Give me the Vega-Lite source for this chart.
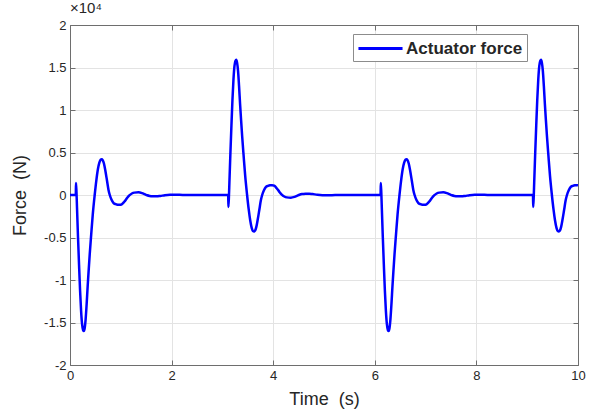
{
  "$schema": "https://vega.github.io/schema/vega-lite/v6.json",
  "width": 508,
  "height": 340,
  "autosize": {"type": "none"},
  "padding": {"left": 70, "top": 25, "right": 12, "bottom": 48},
  "background": "white",
  "title": {"text": "×10⁴", "anchor": "start", "frame": "group", "fontSize": 15, "font": "Liberation Sans", "fontWeight": "normal", "color": "#262626", "offset": 3},
  "data": {"values": [
    {"t":0,"f":0},{"t":0.114,"f":0},{"t":0.118,"f":1400},{"t":0.128,"f":300},{"t":0.138,"f":-1500},{"t":0.158,"f":-5000},{"t":0.178,"f":-8200},{"t":0.198,"f":-11200},{"t":0.218,"f":-13600},{"t":0.238,"f":-15200},{"t":0.258,"f":-15900},{"t":0.273,"f":-16000},{"t":0.288,"f":-15700},{"t":0.308,"f":-14600},{"t":0.328,"f":-12800},{"t":0.348,"f":-10700},{"t":0.368,"f":-8800},{"t":0.388,"f":-7000},{"t":0.418,"f":-4600},{"t":0.448,"f":-2300},{"t":0.486,"f":0},{"t":0.518,"f":1700},{"t":0.548,"f":3000},{"t":0.578,"f":3800},{"t":0.603,"f":4150},{"t":0.623,"f":4200},{"t":0.643,"f":4100},{"t":0.668,"f":3700},{"t":0.698,"f":2800},{"t":0.728,"f":1700},{"t":0.758,"f":600},{"t":0.783,"f":0},{"t":0.818,"f":-550},{"t":0.858,"f":-950},{"t":0.898,"f":-1080},{"t":0.938,"f":-1140},{"t":0.978,"f":-1150},{"t":1.018,"f":-1090},{"t":1.068,"f":-800},{"t":1.118,"f":-400},{"t":1.168,"f":-50},{"t":1.218,"f":180},{"t":1.268,"f":280},{"t":1.348,"f":310},{"t":1.418,"f":220},{"t":1.468,"f":100},{"t":1.518,"f":-30},{"t":1.568,"f":-110},{"t":1.638,"f":-150},{"t":1.708,"f":-160},{"t":1.778,"f":-110},{"t":1.868,"f":-30},{"t":1.968,"f":20},{"t":2.068,"f":30},{"t":2.218,"f":10},{"t":2.418,"f":0},
    {"t":3.114,"f":0},{"t":3.118,"f":-1400},{"t":3.128,"f":-300},{"t":3.138,"f":1500},{"t":3.158,"f":5000},{"t":3.178,"f":8200},{"t":3.198,"f":11200},{"t":3.218,"f":13600},{"t":3.238,"f":15200},{"t":3.258,"f":15800},{"t":3.273,"f":15900},{"t":3.288,"f":15600},{"t":3.308,"f":14600},{"t":3.328,"f":12800},{"t":3.348,"f":10700},{"t":3.368,"f":8800},{"t":3.388,"f":7000},{"t":3.418,"f":4600},{"t":3.448,"f":2300},{"t":3.486,"f":0},{"t":3.518,"f":-1700},{"t":3.548,"f":-3000},{"t":3.578,"f":-3900},{"t":3.603,"f":-4250},{"t":3.623,"f":-4300},{"t":3.643,"f":-4200},{"t":3.668,"f":-3750},{"t":3.698,"f":-2800},{"t":3.728,"f":-1700},{"t":3.758,"f":-600},{"t":3.783,"f":0},{"t":3.818,"f":550},{"t":3.858,"f":950},{"t":3.898,"f":1080},{"t":3.938,"f":1140},{"t":3.978,"f":1150},{"t":4.018,"f":1090},{"t":4.068,"f":800},{"t":4.118,"f":400},{"t":4.168,"f":50},{"t":4.218,"f":-180},{"t":4.268,"f":-280},{"t":4.348,"f":-310},{"t":4.418,"f":-220},{"t":4.468,"f":-100},{"t":4.518,"f":30},{"t":4.568,"f":110},{"t":4.638,"f":150},{"t":4.708,"f":160},{"t":4.778,"f":110},{"t":4.868,"f":30},{"t":4.968,"f":-20},{"t":5.068,"f":-30},{"t":5.218,"f":-10},{"t":5.418,"f":0},
    {"t":6.114,"f":0},{"t":6.118,"f":1400},{"t":6.128,"f":300},{"t":6.138,"f":-1500},{"t":6.158,"f":-5000},{"t":6.178,"f":-8200},{"t":6.198,"f":-11200},{"t":6.218,"f":-13600},{"t":6.238,"f":-15200},{"t":6.258,"f":-15900},{"t":6.273,"f":-16000},{"t":6.288,"f":-15700},{"t":6.308,"f":-14600},{"t":6.328,"f":-12800},{"t":6.348,"f":-10700},{"t":6.368,"f":-8800},{"t":6.388,"f":-7000},{"t":6.418,"f":-4600},{"t":6.448,"f":-2300},{"t":6.486,"f":0},{"t":6.518,"f":1700},{"t":6.548,"f":3000},{"t":6.578,"f":3800},{"t":6.603,"f":4150},{"t":6.623,"f":4200},{"t":6.643,"f":4100},{"t":6.668,"f":3700},{"t":6.698,"f":2800},{"t":6.728,"f":1700},{"t":6.758,"f":600},{"t":6.783,"f":0},{"t":6.818,"f":-550},{"t":6.858,"f":-950},{"t":6.898,"f":-1080},{"t":6.938,"f":-1140},{"t":6.978,"f":-1150},{"t":7.018,"f":-1090},{"t":7.068,"f":-800},{"t":7.118,"f":-400},{"t":7.168,"f":-50},{"t":7.218,"f":180},{"t":7.268,"f":280},{"t":7.348,"f":310},{"t":7.418,"f":220},{"t":7.468,"f":100},{"t":7.518,"f":-30},{"t":7.568,"f":-110},{"t":7.638,"f":-150},{"t":7.708,"f":-160},{"t":7.778,"f":-110},{"t":7.868,"f":-30},{"t":7.968,"f":20},{"t":8.068,"f":30},{"t":8.218,"f":10},{"t":8.418,"f":0},
    {"t":9.114,"f":0},{"t":9.118,"f":-1400},{"t":9.128,"f":-300},{"t":9.138,"f":1500},{"t":9.158,"f":5000},{"t":9.178,"f":8200},{"t":9.198,"f":11200},{"t":9.218,"f":13600},{"t":9.238,"f":15200},{"t":9.258,"f":15800},{"t":9.273,"f":15900},{"t":9.288,"f":15600},{"t":9.308,"f":14600},{"t":9.328,"f":12800},{"t":9.348,"f":10700},{"t":9.368,"f":8800},{"t":9.388,"f":7000},{"t":9.418,"f":4600},{"t":9.448,"f":2300},{"t":9.486,"f":0},{"t":9.518,"f":-1700},{"t":9.548,"f":-3000},{"t":9.578,"f":-3900},{"t":9.603,"f":-4250},{"t":9.623,"f":-4300},{"t":9.643,"f":-4200},{"t":9.668,"f":-3750},{"t":9.698,"f":-2800},{"t":9.728,"f":-1700},{"t":9.758,"f":-600},{"t":9.783,"f":0},{"t":9.818,"f":550},{"t":9.858,"f":950},{"t":9.898,"f":1080},{"t":9.938,"f":1140},{"t":9.978,"f":1150},{"t":10,"f":1130}
  ]},
  "config": {
    "view": {"stroke": "#6e6e6e", "strokeWidth": 1},
    "axis": {
      "domainColor": "#6e6e6e",
      "tickColor": "#6e6e6e",
      "tickSize": -5,
      "labelFlush": false,
      "labelFont": "Liberation Sans",
      "labelFontSize": 13,
      "labelColor": "#262626",
      "titleFont": "Liberation Sans",
      "titleFontSize": 18,
      "titleFontWeight": "normal",
      "titleColor": "#262626",
      "gridColor": "#e3e3e3",
      "gridWidth": 1
    }
  },
  "layer": [
    {
      "mark": {"type": "line", "strokeWidth": 2.5, "interpolate": "monotone", "clip": true},
      "encoding": {
        "x": {"field": "t", "type": "quantitative", "scale": {"domain": [0, 10], "nice": false, "zero": false},
              "axis": {"values": [0, 2, 4, 6, 8, 10], "title": "Time\u00a0\u00a0(s)", "grid": true, "labelPadding": 9, "titlePadding": 8}},
        "y": {"field": "f", "type": "quantitative", "scale": {"domain": [-20000, 20000], "nice": false},
              "axis": {"values": [-20000, -15000, -10000, -5000, 0, 5000, 10000, 15000, 20000], "labelExpr": "datum.value / 10000", "title": "Force\u00a0\u00a0(N)", "grid": true, "labelPadding": 9, "titlePadding": 14}},
        "color": {"datum": "Actuator force", "type": "nominal", "scale": {"range": ["#0000ff"]},
                  "legend": {"title": null, "orient": "none", "legendX": 283, "legendY": 9, "fillColor": "white", "strokeColor": "#8c8c8c", "padding": 4, "symbolType": "M-2.45,0H2.45", "symbolSize": 324, "symbolStrokeWidth": 3, "symbolOffset": 13, "labelFont": "Liberation Sans", "labelFontSize": 17, "labelFontWeight": "bold", "labelColor": "#262626", "labelOffset": 15, "labelLimit": 300}}
      }
    },
    {
      "mark": {"type": "line", "opacity": 0},
      "encoding": {
        "x": {"field": "t", "type": "quantitative", "axis": {"orient": "top", "values": [0, 2, 4, 6, 8, 10], "labels": false, "grid": false, "title": null}},
        "y": {"field": "f", "type": "quantitative", "axis": {"orient": "right", "values": [-20000, -15000, -10000, -5000, 0, 5000, 10000, 15000, 20000], "labels": false, "grid": false, "title": null}}
      }
    }
  ],
  "resolve": {"axis": {"x": "independent", "y": "independent"}}
}
